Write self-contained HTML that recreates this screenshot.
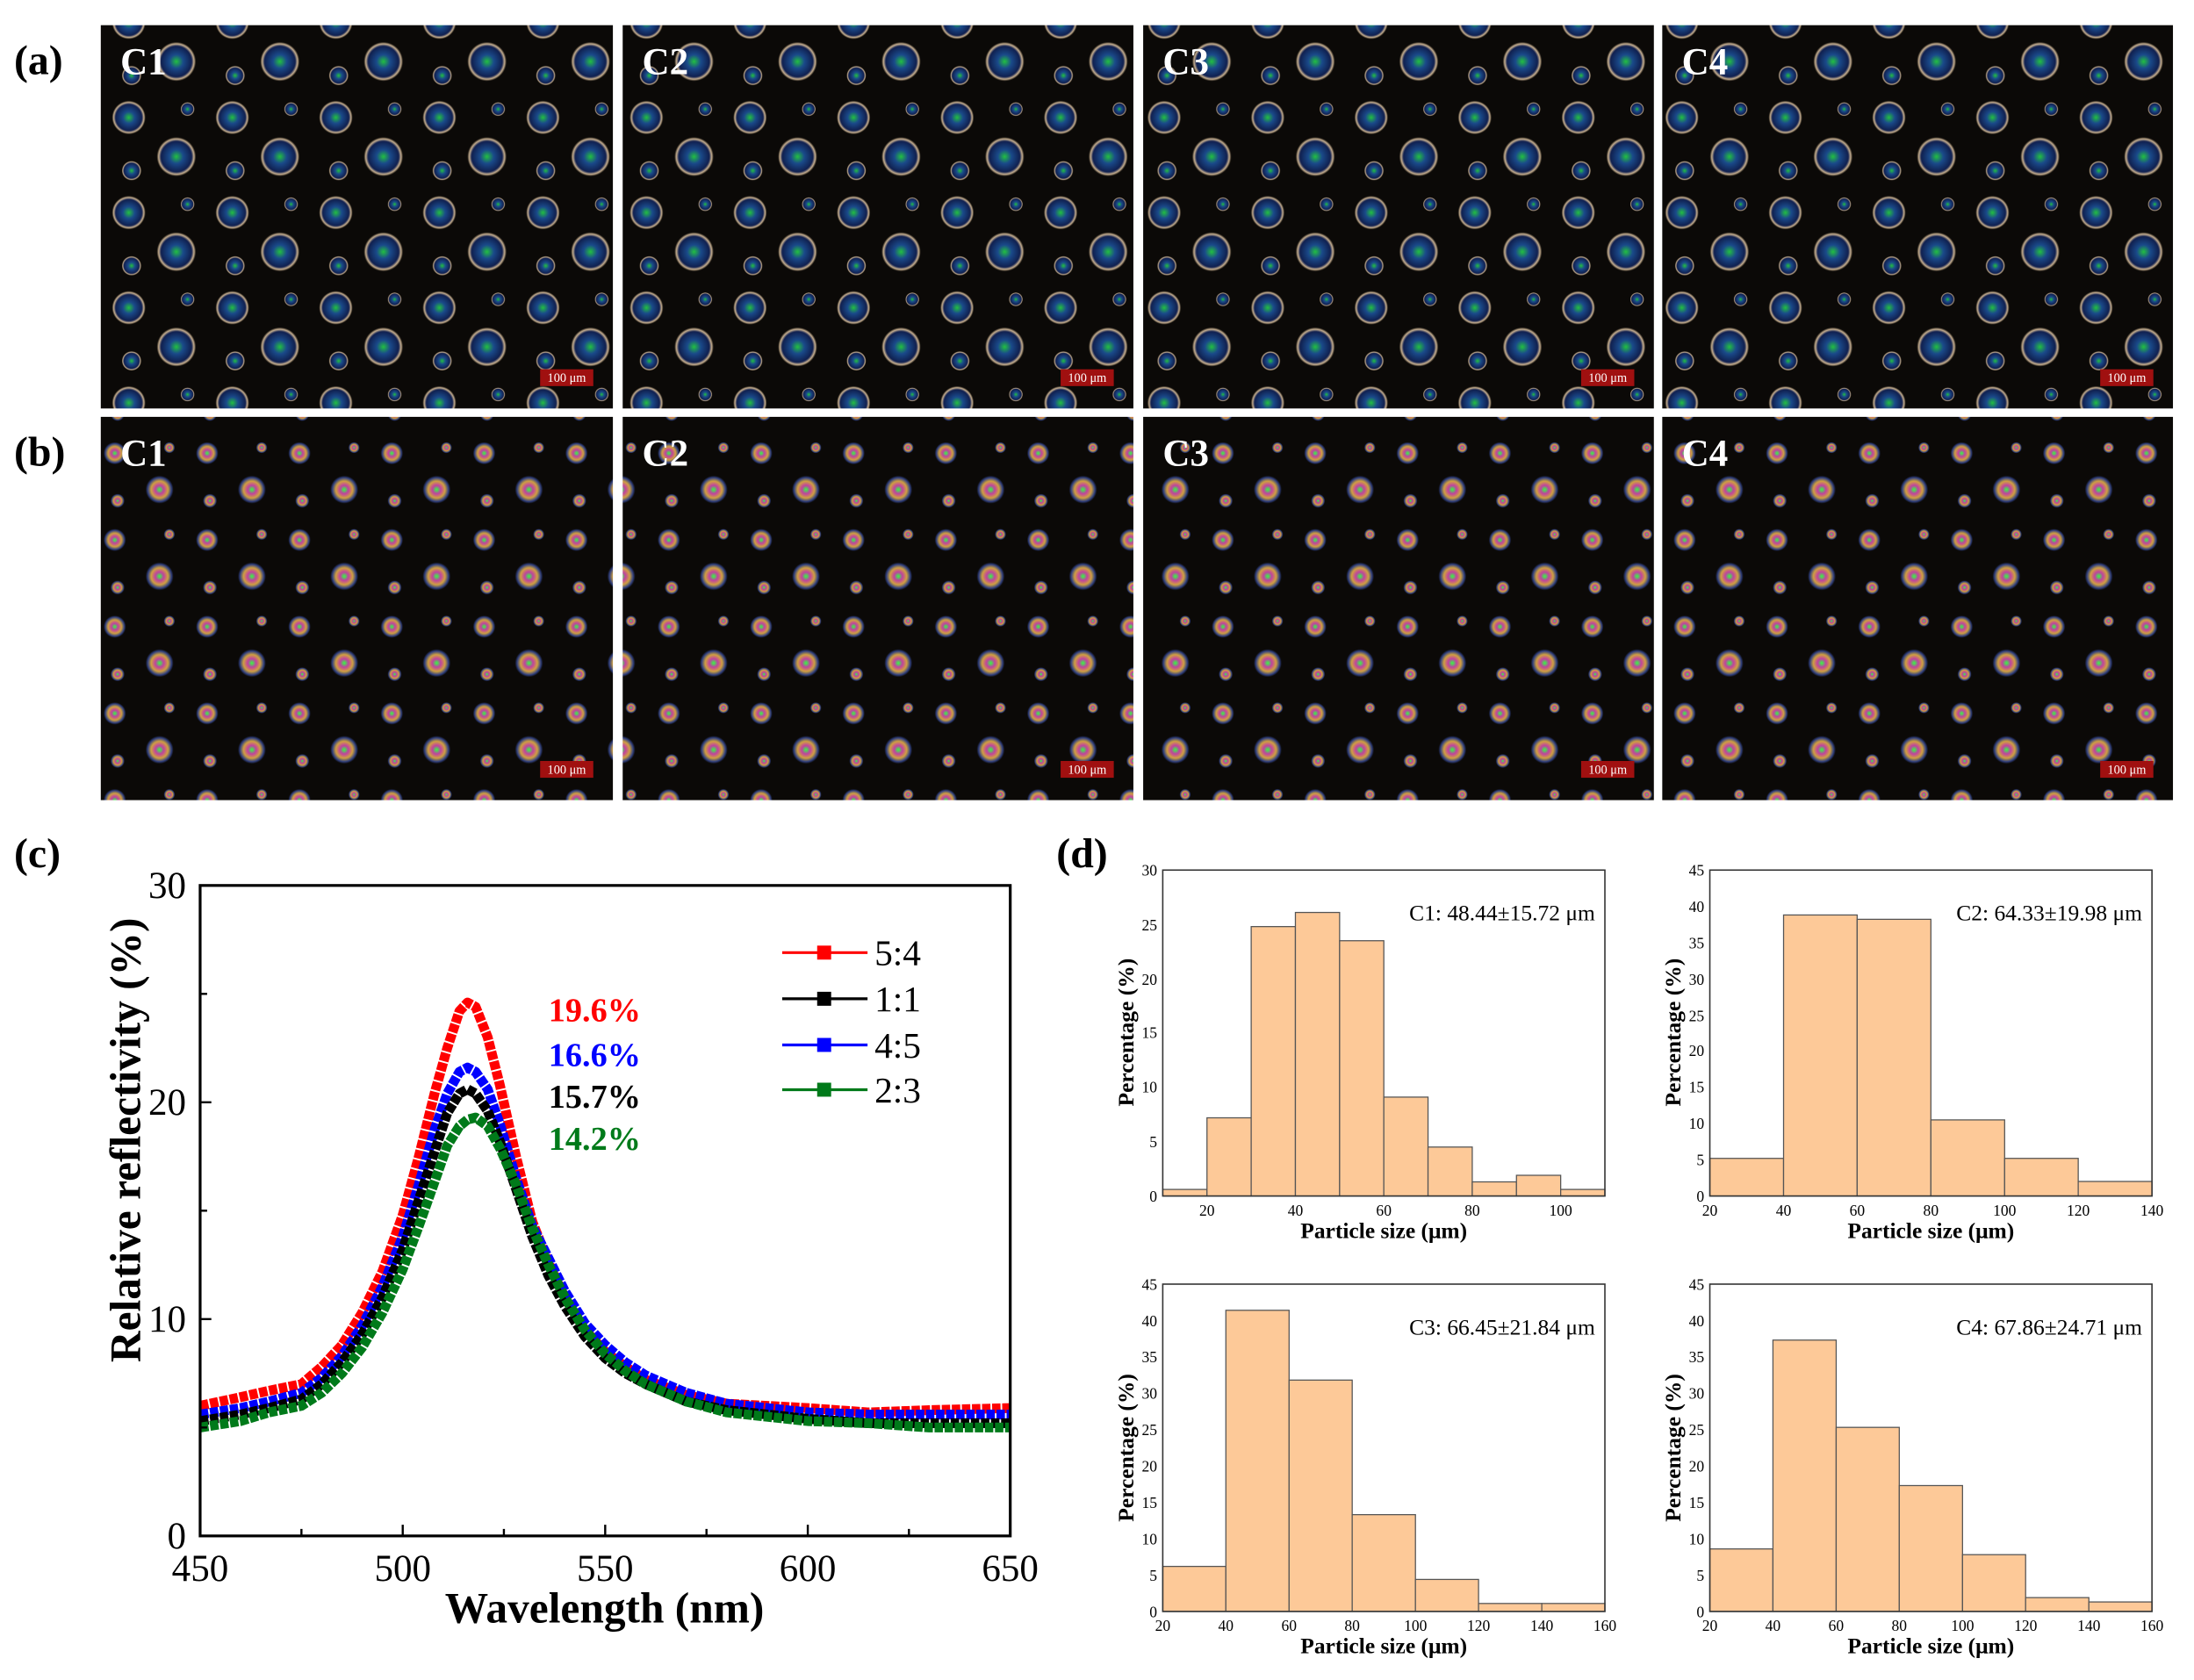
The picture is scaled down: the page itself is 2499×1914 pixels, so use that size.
<!DOCTYPE html>
<html><head><meta charset="utf-8"><style>
html,body{margin:0;padding:0;background:#fff;}
svg{display:block;}
text{font-family:"Liberation Serif",serif;}
</style></head><body>
<svg width="2499" height="1914" viewBox="0 0 1568 1201" xmlns="http://www.w3.org/2000/svg">
<defs>
<radialGradient id="pa" cx="50%" cy="50%" r="50%">
<stop offset="0%" stop-color="#22c040"/><stop offset="35%" stop-color="#1a4a8a"/><stop offset="78%" stop-color="#102050"/><stop offset="90%" stop-color="#c8b090"/><stop offset="100%" stop-color="#0b0907"/>
</radialGradient>
<radialGradient id="pb" cx="50%" cy="50%" r="50%">
<stop offset="0%" stop-color="#30ff40"/><stop offset="30%" stop-color="#c040a0"/><stop offset="60%" stop-color="#d0a040"/><stop offset="85%" stop-color="#304080"/><stop offset="100%" stop-color="#0b0907"/>
</radialGradient>
<pattern id="ptA" width="74" height="68" patternUnits="userSpaceOnUse">
<rect width="74" height="68" fill="#0b0907"/>
<circle cx="18" cy="16" r="12" fill="url(#pa)"/><circle cx="52" cy="44" r="14" fill="url(#pa)"/><circle cx="60" cy="10" r="5" fill="url(#pa)"/><circle cx="20" cy="54" r="7" fill="url(#pa)"/>
</pattern>
<pattern id="ptB" width="66" height="62" patternUnits="userSpaceOnUse">
<rect width="66" height="62" fill="#0b0907"/>
<circle cx="16" cy="14" r="8" fill="url(#pb)"/><circle cx="48" cy="40" r="10" fill="url(#pb)"/><circle cx="55" cy="10" r="4" fill="url(#pb)"/><circle cx="18" cy="48" r="5" fill="url(#pb)"/>
</pattern>
</defs>

<g>
<rect x="72" y="18" width="366" height="274" fill="url(#ptA)"/>
<rect x="445" y="18" width="365" height="274" fill="url(#ptA)"/>
<rect x="817" y="18" width="365" height="274" fill="url(#ptA)"/>
<rect x="1188" y="18" width="365" height="274" fill="url(#ptA)"/>
<rect x="72" y="298" width="366" height="274" fill="url(#ptB)"/>
<rect x="445" y="298" width="365" height="274" fill="url(#ptB)"/>
<rect x="817" y="298" width="365" height="274" fill="url(#ptB)"/>
<rect x="1188" y="298" width="365" height="274" fill="url(#ptB)"/>
</g>
<g font-size="27" font-weight="bold" fill="#fff">
<text x="86" y="53">C1</text><text x="459" y="53">C2</text><text x="831" y="53">C3</text><text x="1202" y="53">C4</text>
<text x="86" y="333">C1</text><text x="459" y="333">C2</text><text x="831" y="333">C3</text><text x="1202" y="333">C4</text>
</g>
<g fill="#a01010">
<rect x="386" y="264" width="38" height="12"/><rect x="758" y="264" width="38" height="12"/><rect x="1130" y="264" width="38" height="12"/><rect x="1501" y="264" width="38" height="12"/>
<rect x="386" y="544" width="38" height="12"/><rect x="758" y="544" width="38" height="12"/><rect x="1130" y="544" width="38" height="12"/><rect x="1501" y="544" width="38" height="12"/>
</g>
<g font-size="9" fill="#fff" text-anchor="middle" style="font-family:'Liberation Sans',sans-serif">
<text x="405" y="273">100 μm</text><text x="777" y="273">100 μm</text><text x="1149" y="273">100 μm</text><text x="1520" y="273">100 μm</text>
<text x="405" y="553">100 μm</text><text x="777" y="553">100 μm</text><text x="1149" y="553">100 μm</text><text x="1520" y="553">100 μm</text>
</g>

<text x="10" y="53" font-size="30" font-weight="bold">(a)</text>
<text x="10" y="333" font-size="30" font-weight="bold">(b)</text>
<text x="10" y="620" font-size="30" font-weight="bold">(c)</text>
<text x="755" y="620" font-size="30" font-weight="bold">(d)</text>

<!-- chart c -->
<g fill="none" stroke-width="7" stroke-dasharray="6 1.2" stroke-linejoin="round">
<polyline stroke="#ff0000" points="143,1005 171.9,998.8 192.2,994.2 215.4,989.5 229.9,977.1 244.3,961.6 258.8,938.4 273.3,908.9 287.8,868.6 299.3,826.8 310.9,780.3 319.6,749.3 328.3,722.9 334.1,716.7 339.9,719.8 348.5,741.5 357.2,775.6 368.8,826.8 380.4,873.3 392,902.7 403.6,927.5 418,950.8 432.5,966.3 447,977.1 461.5,986.4 490.4,997.3 519.4,1003.5 548.3,1005 577.3,1006.6 620.7,1009.7 664.1,1008.1 722,1006.6"/>
<polyline stroke="#0000ff" points="143,1011.2 171.9,1006.6 192.2,1001.9 215.4,995.7 229.9,984.9 244.3,969.4 258.8,947.7 273.3,919.8 287.8,884.1 299.3,846.9 310.9,806.6 319.6,781.8 328.3,766.3 334.1,763.2 339.9,766.3 348.5,778.7 357.2,803.5 368.8,842.3 380.4,876.4 392,899.6 403.6,922.9 418,946.1 432.5,961.6 447,974 461.5,983.3 490.4,995.7 519.4,1003.5 548.3,1006.6 577.3,1009.7 620.7,1011.2 664.1,1011.2 722,1011.2"/>
<polyline stroke="#000000" points="143,1015.9 171.9,1011.2 192.2,1006.6 215.4,1000.4 229.9,989.5 244.3,974 258.8,953.9 273.3,927.5 287.8,893.4 299.3,857.8 310.9,822.1 319.6,795.8 328.3,781.8 334.1,778.7 339.9,781.8 348.5,794.2 357.2,815.9 368.8,850 380.4,884.1 392,912 403.6,933.7 418,955.4 432.5,970.9 447,981.8 461.5,989.5 490.4,1001.9 519.4,1008.1 548.3,1011.2 577.3,1014.3 620.7,1017.4 664.1,1017.4 722,1017.4"/>
<polyline stroke="#007a1a" points="143,1020.5 171.9,1015.9 192.2,1009.7 215.4,1005 229.9,995.7 244.3,981.8 258.8,963.2 273.3,938.4 287.8,907.4 299.3,876.4 310.9,843.8 319.6,819 328.3,805.1 334.1,800.4 339.9,798.9 348.5,805.1 357.2,820.6 368.8,846.9 380.4,878 392,904.3 403.6,927.5 418,950.8 432.5,967.8 447,980.2 461.5,989.5 490.4,1001.9 519.4,1009.7 548.3,1012.8 577.3,1015.9 620.7,1017.4 664.1,1020.5 722,1020.5"/>
</g>
<rect x="143" y="633" width="579" height="465" fill="none" stroke="#000" stroke-width="2"/>
<g stroke="#000" stroke-width="1.5">
<line x1="143" x2="143" y1="1098" y2="1090"/><line x1="215.4" x2="215.4" y1="1098" y2="1093"/><line x1="287.8" x2="287.8" y1="1098" y2="1090"/><line x1="360.1" x2="360.1" y1="1098" y2="1093"/><line x1="432.5" x2="432.5" y1="1098" y2="1090"/><line x1="504.9" x2="504.9" y1="1098" y2="1093"/><line x1="577.3" x2="577.3" y1="1098" y2="1090"/><line x1="649.6" x2="649.6" y1="1098" y2="1093"/>
<line x1="143" x2="151" y1="943" y2="943"/><line x1="143" x2="151" y1="788" y2="788"/><line x1="143" x2="148" y1="1020.5" y2="1020.5"/><line x1="143" x2="148" y1="865.5" y2="865.5"/><line x1="143" x2="148" y1="710.5" y2="710.5"/>
</g>
<g font-size="27" text-anchor="middle">
<text x="143" y="1130">450</text><text x="287.8" y="1130">500</text><text x="432.5" y="1130">550</text><text x="577.3" y="1130">600</text><text x="722" y="1130">650</text>
</g>
<g font-size="27" text-anchor="end">
<text x="133" y="1107">0</text><text x="133" y="952">10</text><text x="133" y="797">20</text><text x="133" y="642">30</text>
</g>
<text x="432" y="1160" font-size="31" font-weight="bold" text-anchor="middle">Wavelength (nm)</text>
<text transform="translate(100,815) rotate(-90)" font-size="31" font-weight="bold" text-anchor="middle">Relative reflectivity (%)</text>
<g stroke-width="2">
<line x1="559" x2="620" y1="681" y2="681" stroke="#ff0000"/><rect x="584" y="676" width="10" height="10" fill="#ff0000"/>
<line x1="559" x2="620" y1="714" y2="714" stroke="#000"/><rect x="584" y="709" width="10" height="10" fill="#000"/>
<line x1="559" x2="620" y1="747" y2="747" stroke="#0000ff"/><rect x="584" y="742" width="10" height="10" fill="#0000ff"/>
<line x1="559" x2="620" y1="779" y2="779" stroke="#007a1a"/><rect x="584" y="774" width="10" height="10" fill="#007a1a"/>
</g>
<g font-size="26">
<text x="625" y="690">5:4</text><text x="625" y="723">1:1</text><text x="625" y="756">4:5</text><text x="625" y="788">2:3</text>
</g>
<g font-size="24" font-weight="bold">
<text x="392" y="730" fill="#ff0000">19.6%</text><text x="392" y="762" fill="#0000ff">16.6%</text><text x="392" y="792" fill="#000">15.7%</text><text x="392" y="822" fill="#007a1a">14.2%</text>
</g>

<!-- histograms -->
<g fill="#fdc998" stroke="#555" stroke-width="0.8">
<rect x="831" y="850.3" width="31.6" height="4.7"/><rect x="862.6" y="799.1" width="31.6" height="55.9"/><rect x="894.2" y="662.4" width="31.6" height="192.6"/><rect x="925.8" y="652.3" width="31.6" height="202.7"/><rect x="957.4" y="672.5" width="31.6" height="182.5"/><rect x="989" y="784.3" width="31.6" height="70.7"/><rect x="1020.6" y="820" width="31.6" height="35"/><rect x="1052.2" y="844.9" width="31.6" height="10.1"/><rect x="1083.8" y="840.2" width="31.6" height="14.8"/><rect x="1115.4" y="850.3" width="31.6" height="4.7"/>
<rect x="1222" y="828.1" width="52.7" height="26.9"/><rect x="1274.7" y="654.1" width="52.6" height="200.9"/><rect x="1327.3" y="657.2" width="52.7" height="197.8"/><rect x="1380" y="800.6" width="52.7" height="54.4"/><rect x="1432.7" y="828.1" width="52.6" height="26.9"/><rect x="1485.3" y="844.6" width="52.7" height="10.4"/>
<rect x="831" y="1119.8" width="45.1" height="32.2"/><rect x="876.1" y="936.7" width="45.2" height="215.3"/><rect x="921.3" y="986.6" width="45.1" height="165.4"/><rect x="966.4" y="1082.8" width="45.2" height="69.2"/><rect x="1011.6" y="1129.1" width="45.1" height="22.9"/><rect x="1056.7" y="1146.3" width="45.2" height="5.7"/><rect x="1101.9" y="1146.3" width="45.1" height="5.7"/>
<rect x="1222" y="1107.3" width="45.1" height="44.7"/><rect x="1267.1" y="958" width="45.2" height="194"/><rect x="1312.3" y="1020.4" width="45.1" height="131.6"/><rect x="1357.4" y="1062" width="45.2" height="90"/><rect x="1402.6" y="1111.4" width="45.1" height="40.6"/><rect x="1447.7" y="1142.1" width="45.2" height="9.9"/><rect x="1492.9" y="1145.2" width="45.1" height="6.8"/>
</g>
<g fill="none" stroke="#333" stroke-width="1">
<rect x="831" y="622" width="316" height="233"/><rect x="1222" y="622" width="316" height="233"/>
<rect x="831" y="918" width="316" height="234"/><rect x="1222" y="918" width="316" height="234"/>
</g>
<g font-size="11" text-anchor="middle">
<text x="862.6" y="869">20</text><text x="925.8" y="869">40</text><text x="989" y="869">60</text><text x="1052.2" y="869">80</text><text x="1115.4" y="869">100</text>
<text x="1222" y="869">20</text><text x="1274.7" y="869">40</text><text x="1327.3" y="869">60</text><text x="1380" y="869">80</text><text x="1432.7" y="869">100</text><text x="1485.3" y="869">120</text><text x="1538" y="869">140</text>
<text x="831" y="1166">20</text><text x="876.1" y="1166">40</text><text x="921.3" y="1166">60</text><text x="966.4" y="1166">80</text><text x="1011.6" y="1166">100</text><text x="1056.7" y="1166">120</text><text x="1101.9" y="1166">140</text><text x="1147" y="1166">160</text>
<text x="1222" y="1166">20</text><text x="1267.1" y="1166">40</text><text x="1312.3" y="1166">60</text><text x="1357.4" y="1166">80</text><text x="1402.6" y="1166">100</text><text x="1447.7" y="1166">120</text><text x="1492.9" y="1166">140</text><text x="1538" y="1166">160</text>
</g>
<g font-size="11" text-anchor="end">
<text x="827" y="859">0</text><text x="827" y="820">5</text><text x="827" y="781">10</text><text x="827" y="742">15</text><text x="827" y="704">20</text><text x="827" y="665">25</text><text x="827" y="626">30</text>
<text x="1218" y="859">0</text><text x="1218" y="833">5</text><text x="1218" y="807">10</text><text x="1218" y="781">15</text><text x="1218" y="755">20</text><text x="1218" y="730">25</text><text x="1218" y="704">30</text><text x="1218" y="678">35</text><text x="1218" y="652">40</text><text x="1218" y="626">45</text>
<text x="827" y="1156">0</text><text x="827" y="1130">5</text><text x="827" y="1104">10</text><text x="827" y="1078">15</text><text x="827" y="1052">20</text><text x="827" y="1026">25</text><text x="827" y="1000">30</text><text x="827" y="974">35</text><text x="827" y="948">40</text><text x="827" y="922">45</text>
<text x="1218" y="1156">0</text><text x="1218" y="1130">5</text><text x="1218" y="1104">10</text><text x="1218" y="1078">15</text><text x="1218" y="1052">20</text><text x="1218" y="1026">25</text><text x="1218" y="1000">30</text><text x="1218" y="974">35</text><text x="1218" y="948">40</text><text x="1218" y="922">45</text>
</g>
<g font-size="16" font-weight="bold" text-anchor="middle">
<text x="989" y="885">Particle size (μm)</text><text x="1380" y="885">Particle size (μm)</text>
<text x="989" y="1182">Particle size (μm)</text><text x="1380" y="1182">Particle size (μm)</text>
<text transform="translate(810,738) rotate(-90)">Percentage (%)</text><text transform="translate(1201,738) rotate(-90)">Percentage (%)</text>
<text transform="translate(810,1035) rotate(-90)">Percentage (%)</text><text transform="translate(1201,1035) rotate(-90)">Percentage (%)</text>
</g>
<g font-size="16" text-anchor="end">
<text x="1140" y="658">C1: 48.44±15.72 μm</text><text x="1531" y="658">C2: 64.33±19.98 μm</text>
<text x="1140" y="954">C3: 66.45±21.84 μm</text><text x="1531" y="954">C4: 67.86±24.71 μm</text>
</g>
</svg>
</body></html>
